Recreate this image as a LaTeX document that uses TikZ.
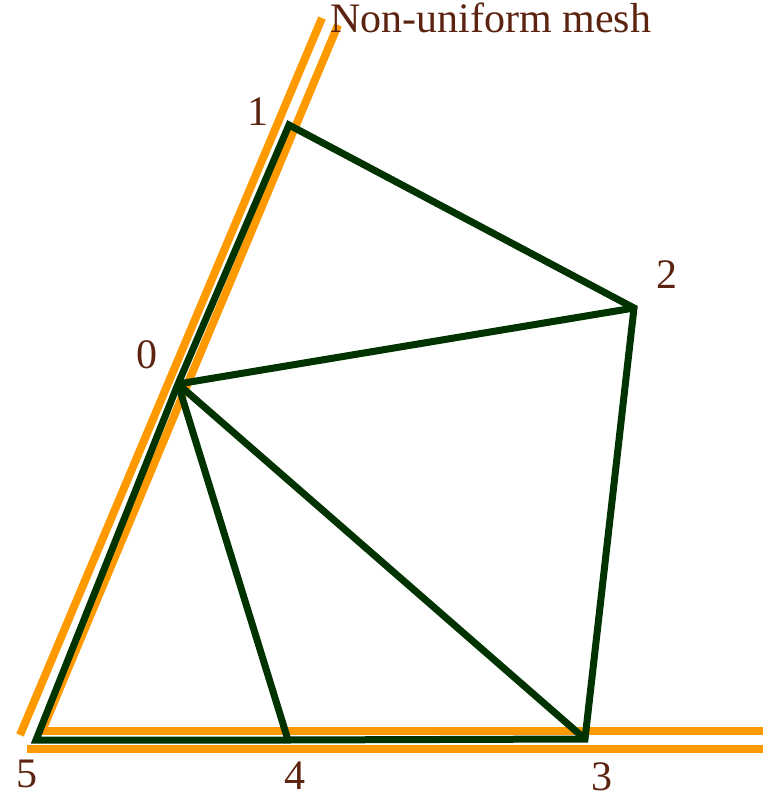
\documentclass[tikz,border=0pt]{standalone}
\usepackage{fontspec}
\setmainfont{Liberation Serif}
\usepackage{xcolor}
\definecolor{orangebord}{HTML}{FF9900}
\definecolor{vertmaille}{HTML}{003300}
\definecolor{brunlabel}{HTML}{5C2410}
\usetikzlibrary{positioning}

\begin{document}
\begin{tikzpicture}[x=1pt,y=-1pt,
  bord/.style={orangebord,line width=8pt},
  arete/.style={vertmaille,line width=7pt,line join=miter},
  num/.style={brunlabel,inner sep=0pt,font=\fontsize{42}{50}\selectfont}
]
\useasboundingbox (0,0) rectangle (769,795);
% boundary of the domain
\coordinate (bh1) at (40,731);  \coordinate (bh2) at (763,731);
\coordinate (bb1) at (27,749);  \coordinate (bb2) at (763,749);
\coordinate (go1) at (20,735);  \coordinate (go2) at (322,18);
\coordinate (gi1) at (42,731);  \coordinate (gi2) at (338,25);
\draw[bord] (bh1)--(bh2);
\draw[bord] (bb1)--(bb2);
\draw[bord] (go1)--(go2);
\draw[bord] (gi1)--(gi2);
% mesh vertices
\coordinate (v0) at (178,384);
\coordinate (v1) at (289,125);
\coordinate (v2) at (634,308);
\coordinate (v3) at (585,739);
\coordinate (v4) at (288,740);
\coordinate (v5) at (36,740);
\draw[arete] (v5)--(v4)--(v3)--(v2)--(v1)--(v0)--cycle;
\draw[arete] (v0)--(v2);
\draw[arete] (v0)--(v4);
\draw[arete] (v0)--(v3);
% labels
\node[num] (l0) at (147,355) {0};
\node[num] (l1) at (258,112) {1};
\node[num] (l2) at (667,275) {2};
\node[num] (l3) at (602,777) {3};
\node[num] (l4) at (295,776) {4};
\node[num] (l5) at (27,774) {5};
\node[num,anchor=base west] (titre) at (330,32) {Non-uniform mesh};
\end{tikzpicture}
\end{document}
